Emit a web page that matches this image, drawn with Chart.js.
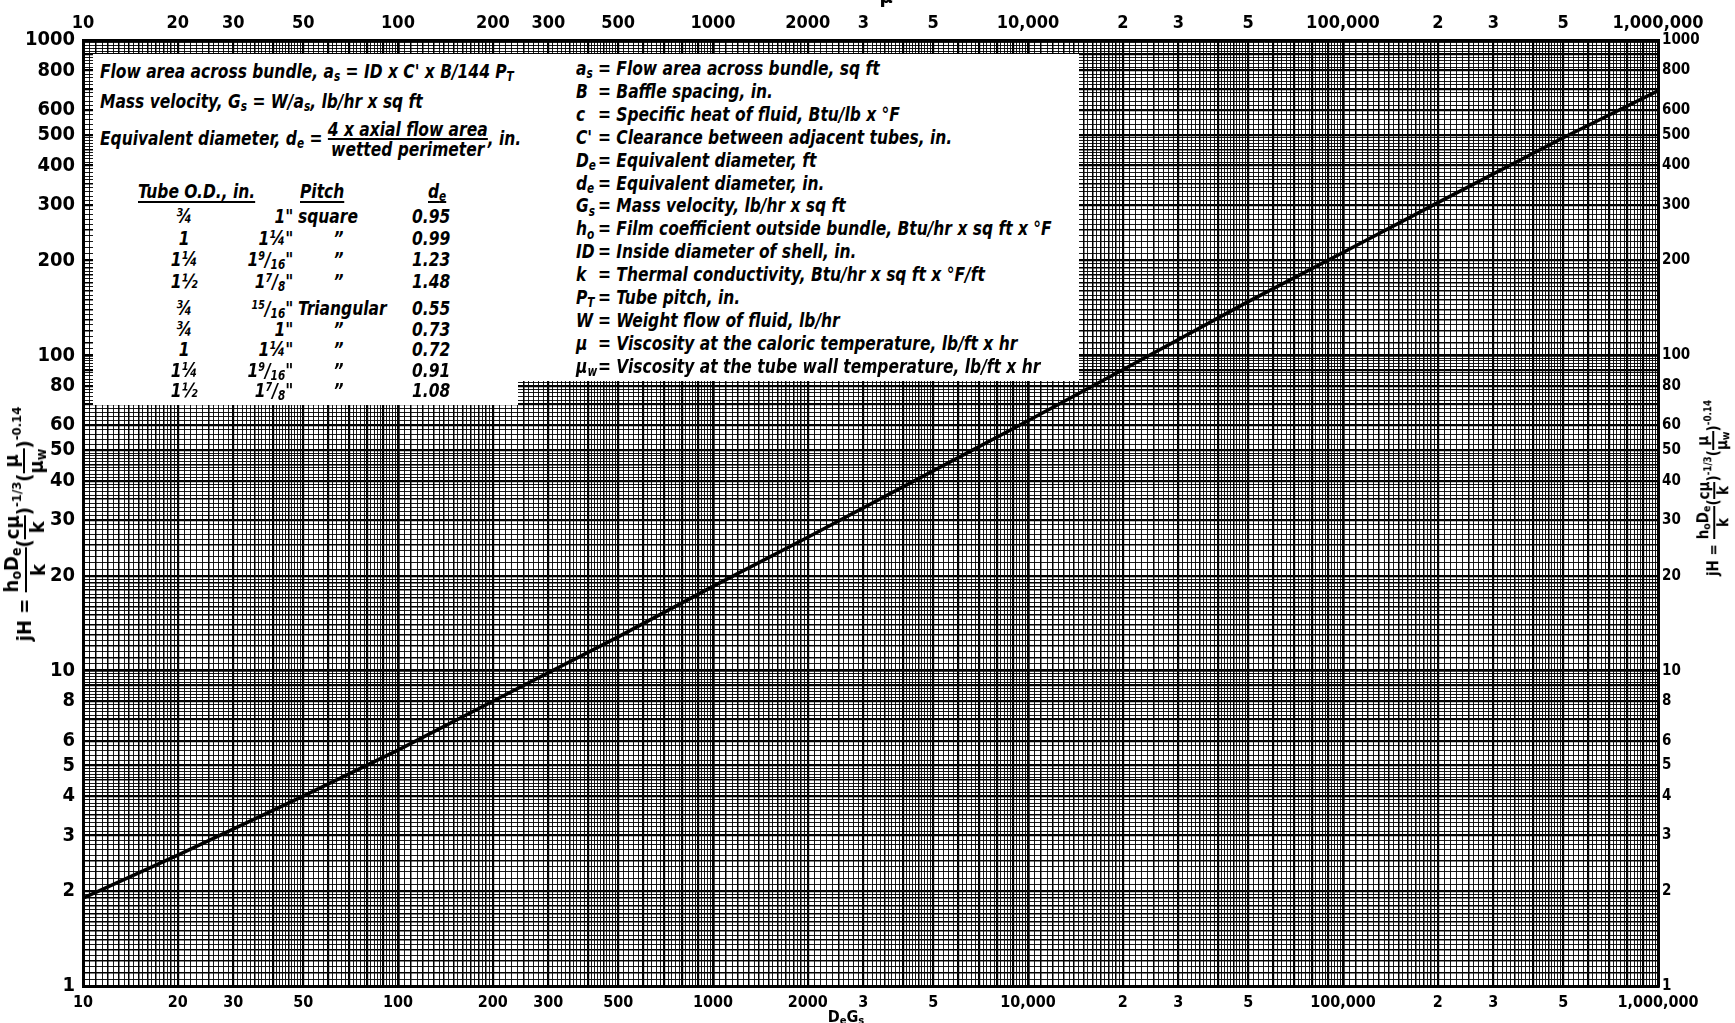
<!DOCTYPE html>
<html>
<head>
<meta charset="utf-8">
<script src="https://cdn.jsdelivr.net/npm/chart.js@4.4.1/dist/chart.umd.min.js"></script>
<style>
  body { margin: 0; background: #fff; }
  #wrap { position: relative; width: 1735px; height: 1023px; overflow: hidden; background: #fff; }
  #chart { position: absolute; left: 0; top: 0; }
  .box { position: absolute; background: #fff; }
  .t { position: absolute; white-space: nowrap; color: #000;
       font-family: "DejaVu Sans Condensed", sans-serif;
       font-style: italic; font-weight: bold; font-size: 20px; line-height: 22px;
       transform-origin: 0 50%; transform: scaleX(0.86); }
  .t sub { font-size: 68%; position: relative; top: 0.25em; vertical-align: baseline; }
  .t sup { font-size: 62%; position: relative; top: -0.45em; vertical-align: baseline; }
  .u { text-decoration: underline; text-decoration-thickness: 2px; text-underline-offset: 3px; }
  .frac { display: inline-flex; flex-direction: column; vertical-align: middle; text-align: center; line-height: 18px; }
  .frac > span:first-child { border-bottom: 2px solid #000; }
  .ax { position: absolute; white-space: nowrap; color: #000;
        font-family: "DejaVu Sans Condensed", sans-serif; font-weight: bold;
        transform: translate(-50%, -50%) rotate(-90deg); }
  .ax sub { font-size: 70%; position: relative; top: 0.2em; vertical-align: baseline; }
  .ax sup { font-size: 65%; position: relative; top: -0.7em; vertical-align: baseline; }
  .ax .frac { line-height: 1.15em; }
</style>
</head>
<body>
<div id="wrap">
  <canvas id="chart" width="1735" height="1023"></canvas>
</div>
<script>
// ---------------- data ----------------
const reValues = [10, 20, 50, 100, 200, 500, 1000, 2000, 5000, 10000, 20000, 50000, 100000, 200000, 500000, 1000000];
const jhValues = [1.9, 2.6, 4.0, 5.6, 8.0, 12.8, 18.5, 26.5, 43, 62, 90, 148, 212, 305, 490, 690];

const xTickValues = [10, 20, 30, 50, 100, 200, 300, 500, 1000, 2000, 3000, 5000, 10000, 20000, 30000, 50000, 100000, 200000, 300000, 500000, 1000000];
const xTickLabels = ['10', '20', '30', '50', '100', '200', '300', '500', '1000', '2000', '3', '5', '10,000', '2', '3', '5', '100,000', '2', '3', '5', '1,000,000'];
const yTickValues = [1, 2, 3, 4, 5, 6, 8, 10, 20, 30, 40, 50, 60, 80, 100, 200, 300, 400, 500, 600, 800, 1000];
const yTickLabels = ['1', '2', '3', '4', '5', '6', '8', '10', '20', '30', '40', '50', '60', '80', '100', '200', '300', '400', '500', '600', '800', '1000'];

const tubeOD = ['¾', '1', '1¼', '1½', '¾', '¾', '1', '1¼', '1½'];
const pitchSize = ['1"', '1¼"', '1<sup>9</sup>/<sub>16</sub>"', '1<sup>7</sup>/<sub>8</sub>"', '<sup>15</sup>/<sub>16</sub>"', '1"', '1¼"', '1<sup>9</sup>/<sub>16</sub>"', '1<sup>7</sup>/<sub>8</sub>"'];
const pitchKind = ['square', '”', '”', '”', 'Triangular', '”', '”', '”', '”'];
const eqDiameter = ['0.95', '0.99', '1.23', '1.48', '0.55', '0.73', '0.72', '0.91', '1.08'];

const definitions = [
  ['a<sub>s</sub>', 'Flow area across bundle, sq ft'],
  ['B', 'Baffle spacing, in.'],
  ['c', 'Specific heat of fluid, Btu/lb x °F'],
  ["C'", 'Clearance between adjacent tubes, in.'],
  ['D<sub>e</sub>', 'Equivalent diameter, ft'],
  ['d<sub>e</sub>', 'Equivalent diameter, in.'],
  ['G<sub>s</sub>', 'Mass velocity, lb/hr x sq ft'],
  ['h<sub>o</sub>', 'Film coefficient outside bundle, Btu/hr x sq ft x °F'],
  ['ID', 'Inside diameter of shell, in.'],
  ['k', 'Thermal conductivity, Btu/hr x sq ft x °F/ft'],
  ['P<sub>T</sub>', 'Tube pitch, in.'],
  ['W', 'Weight flow of fluid, lb/hr'],
  ['μ', 'Viscosity at the caloric temperature, lb/ft x hr'],
  ['μ<sub>w</sub>', 'Viscosity at the tube wall temperature, lb/ft x hr']
];

// ---------------- overlay text ----------------
const wrap = document.getElementById('wrap');
function add(cls, html, style) {
  const d = document.createElement('div');
  d.className = cls;
  d.innerHTML = html;
  Object.assign(d.style, style);
  wrap.appendChild(d);
  return d;
}
add('box', '', { left: '93px', top: '54px', width: '986px', height: '327px' });
add('box', '', { left: '93px', top: '380px', width: '425px', height: '25px' });

add('t', 'Flow area across bundle, a<sub>s</sub> = ID x C\' x B/144 P<sub>T</sub>', { left: '100px', top: '60px' });
add('t', 'Mass velocity, G<sub>s</sub> = W/a<sub>s</sub>, lb/hr x sq ft', { left: '100px', top: '90px' });
add('t', 'Equivalent diameter, d<sub>e</sub> = <span class="frac"><span>4 x axial flow area</span><span>wetted perimeter</span></span>, in.', { left: '100px', top: '120px' });

add('t', '<span class="u">Tube O.D., in.</span>', { left: '138px', top: '180px' });
add('t', '<span class="u">Pitch</span>', { left: '300px', top: '180px' });
add('t', '<span class="u">d<sub>e</sub></span>', { left: '428px', top: '180px' });
for (let i = 0; i < tubeOD.length; i++) {
  const top = (i < 4 ? 205 + i * 21.5 : 297 + (i - 4) * 20.5);
  add('t', tubeOD[i], { left: '160px', top: top + 'px', width: '56px', textAlign: 'center' });
  add('t', pitchSize[i], { left: '240px', top: top + 'px', width: '62px', textAlign: 'right' });
  if (pitchKind[i] === '”') {
    add('t', pitchKind[i], { left: '330px', top: top + 'px', width: '20px', textAlign: 'center' });
  } else {
    add('t', pitchKind[i], { left: '298px', top: top + 'px' });
  }
  add('t', eqDiameter[i], { left: '412px', top: top + 'px' });
}
for (let i = 0; i < definitions.length; i++) {
  const top = 57 + i * 22.9;
  add('t', definitions[i][0], { left: '576px', top: top + 'px' });
  add('t', '= ' + definitions[i][1], { left: '598px', top: top + 'px' });
}

const jhTitle = 'jH = <span class="frac"><span>h<sub>o</sub>D<sub>e</sub></span><span>k</span></span>' +
  '(<span class="frac"><span>cμ</span><span>k</span></span>)<sup>-1/3</sup>' +
  '(<span class="frac"><span>μ</span><span>μ<sub>w</sub></span></span>)<sup>-0.14</sup>';
add('ax', jhTitle, { left: '25px', top: '524px', fontSize: '20px' });
add('ax', jhTitle, { left: '1714px', top: '488px', fontSize: '15px' });
add('ax', 'μ', { left: '886px', top: '-4px', fontSize: '20px', transform: 'translate(-50%,-50%)' });
add('ax', 'D<sub>e</sub>G<sub>s</sub>', { left: '846px', top: '1016px', fontSize: '16px', transform: 'translate(-50%,-50%)' });

// ---------------- chart ----------------
// graph-paper rulings: 1-2 by 0.05, 2-5 by 0.1, 5-10 by 0.2 in every decade
function buildGrid(minExp, maxExp) {
  const out = [];
  for (let e = minExp; e < maxExp; e++) {
    const b = Math.pow(10, e);
    for (let m = 100; m < 1000; ) {
      let kind = 0;
      if (m === 100) kind = 3;
      else if (m % 100 === 0) kind = 2;
      else if ((m < 200 && m % 10 === 0) || (m >= 200 && m < 500 && m % 50 === 0)) kind = 1;
      out.push({ value: m / 100 * b, kind });
      m += (m < 200 ? 5 : (m < 500 ? 10 : 20));
    }
  }
  out.push({ value: Math.pow(10, maxExp), kind: 3 });
  return out;
}
function matchLabel(v, values, labels) {
  for (let i = 0; i < values.length; i++) if (Math.abs(v / values[i] - 1) < 1e-6) return labels[i];
  return '';
}
const gridWidth = (ctx) => {
  const k = ctx.tick ? ctx.tick.kind : 0;
  return [0.9, 1.5, 2.2, 2.7][k || 0];
};
const FAM = '"DejaVu Sans Condensed",sans-serif';
const border = { display: true, color: '#000', width: 3 };

new Chart(document.getElementById('chart'), {
  type: 'scatter',
  data: {
    datasets: [{
      data: reValues.map((r, i) => ({ x: r, y: jhValues[i] })),
      showLine: true, borderColor: '#000', borderWidth: 3.5, pointRadius: 0, tension: 0, fill: false
    }]
  },
  options: {
    responsive: false, animation: false, events: [],
    layout: { padding: 0 },
    plugins: { legend: { display: false }, tooltip: { enabled: false } },
    scales: {
      x: {
        type: 'logarithmic', position: 'bottom', min: 10, max: 1000000,
        afterBuildTicks: (s) => { s.ticks = buildGrid(1, 6); },
        afterFit: (s) => { s.height = 37; },
        ticks: { autoSkip: false, maxRotation: 0, minRotation: 0, padding: 7, color: '#000',
                 font: { family: FAM, size: 16, weight: 'bold' },
                 callback: (v) => matchLabel(v, xTickValues, xTickLabels) },
        grid: { color: '#000', lineWidth: gridWidth, drawTicks: false },
        border
      },
      xTop: {
        type: 'logarithmic', position: 'top', min: 10, max: 1000000,
        afterBuildTicks: (s) => { s.ticks = xTickValues.map(v => ({ value: v })); },
        afterFit: (s) => { s.height = 40; },
        ticks: { autoSkip: false, maxRotation: 0, minRotation: 0, padding: 6, color: '#000',
                 font: { family: FAM, size: 18, weight: 'bold' },
                 callback: (v, i) => xTickLabels[i] },
        grid: { display: false, drawTicks: false },
        border
      },
      y: {
        type: 'logarithmic', position: 'left', min: 1, max: 1000,
        afterBuildTicks: (s) => { s.ticks = buildGrid(0, 3); },
        afterFit: (s) => { s.width = 83; },
        ticks: { autoSkip: false, padding: 8, color: '#000',
                 font: { family: FAM, size: 20, weight: 'bold' },
                 callback: (v) => matchLabel(v, yTickValues, yTickLabels) },
        grid: { color: '#000', lineWidth: gridWidth, drawTicks: false },
        border
      },
      yRight: {
        type: 'logarithmic', position: 'right', min: 1, max: 1000,
        afterBuildTicks: (s) => { s.ticks = yTickValues.map(v => ({ value: v })); },
        afterFit: (s) => { s.width = 77; },
        ticks: { autoSkip: false, padding: 4, color: '#000',
                 font: { family: FAM, size: 15, weight: 'bold' },
                 callback: (v, i) => yTickLabels[i] },
        grid: { display: false, drawTicks: false },
        border
      }
    }
  }
});
</script>
</body>
</html>
